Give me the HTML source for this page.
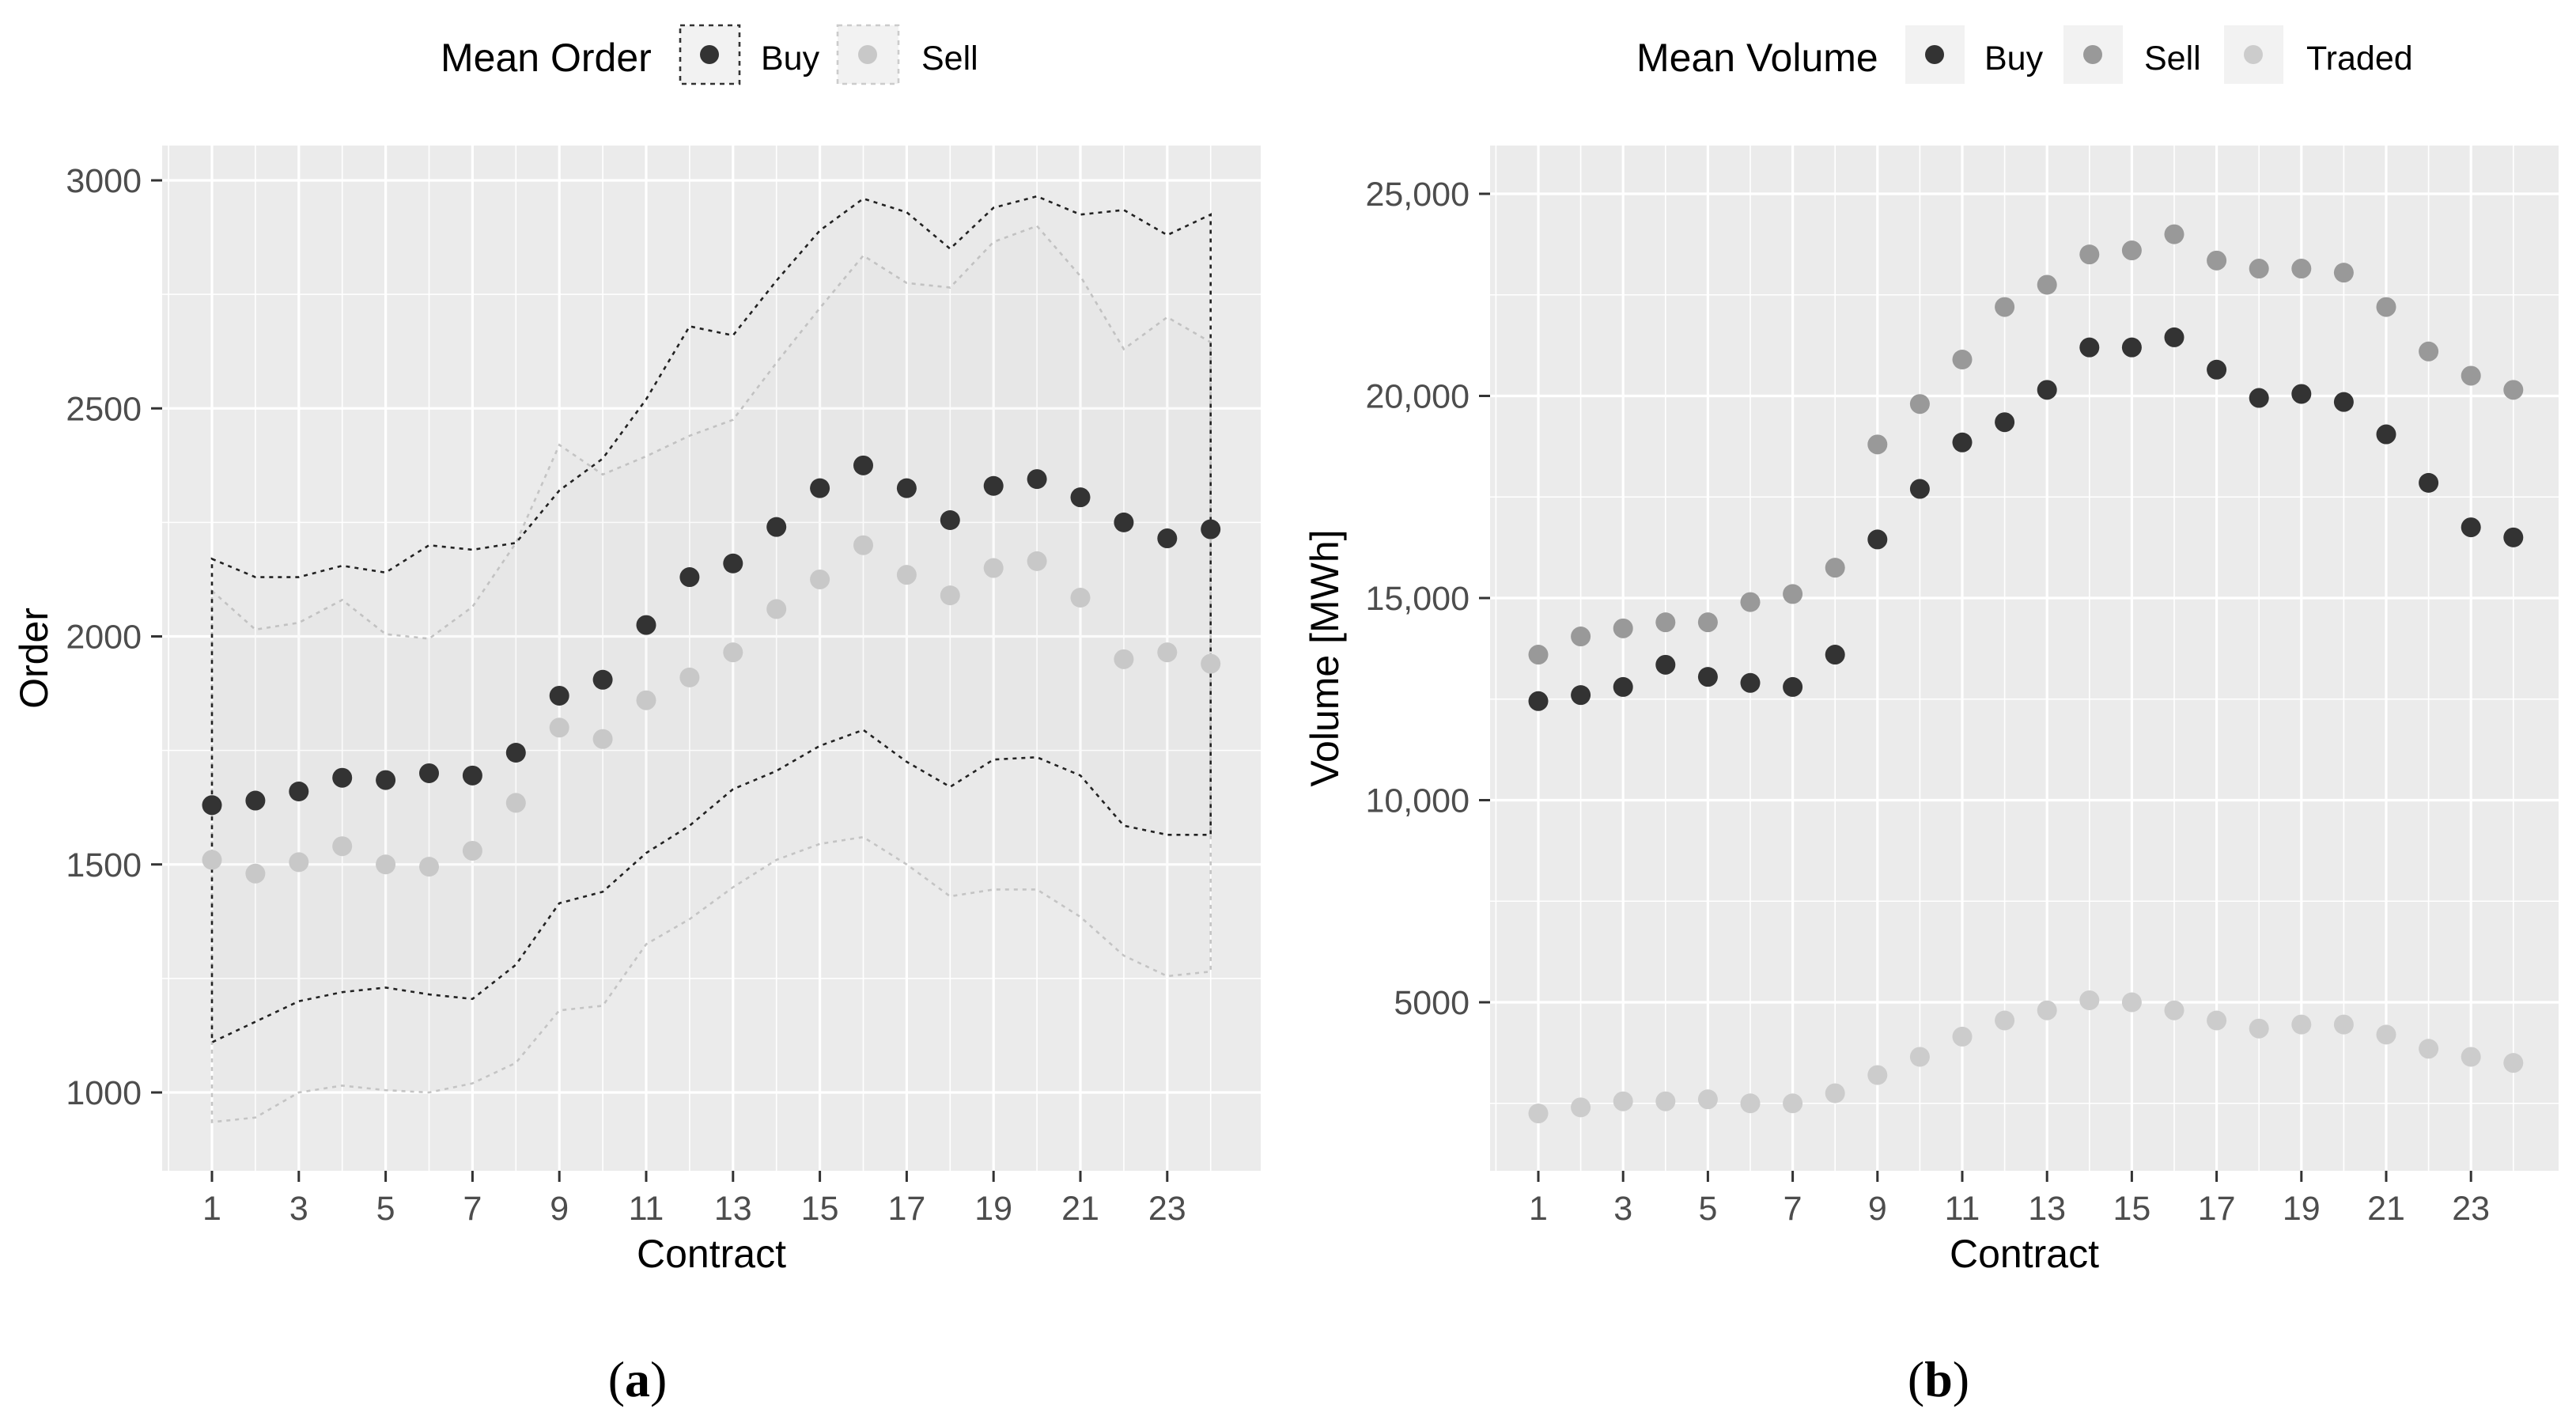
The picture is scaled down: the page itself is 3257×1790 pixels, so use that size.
<!DOCTYPE html>
<html><head><meta charset="utf-8"><style>
html,body{margin:0;padding:0;background:#fff;}
svg{display:block;font-family:"Liberation Sans",Arial,sans-serif;}
</style></head><body>
<svg id="fig" width="3257" height="1790" viewBox="0 0 3257 1790" xmlns="http://www.w3.org/2000/svg">
<g id="left"></g>
<g id="right"></g>
<text x="806" y="1765" font-family="Liberation Serif,serif" font-size="64" text-anchor="middle">(<tspan font-weight="bold">a</tspan>)</text>
<text x="2451" y="1765" font-family="Liberation Serif,serif" font-size="64" text-anchor="middle">(<tspan font-weight="bold">b</tspan>)</text>
</svg>
<script>
const contracts = [1,2,3,4,5,6,7,8,9,10,11,12,13,14,15,16,17,18,19,20,21,22,23,24];
const xTicks = [1,3,5,7,9,11,13,15,17,19,21,23];
// Panel (a)
const buyMean = [1630,1640,1660,1690,1685,1700,1695,1745,1870,1905,2025,2130,2160,2240,2325,2375,2325,2255,2330,2345,2305,2250,2215,2235];
const sellMean = [1510,1480,1505,1540,1500,1495,1530,1635,1800,1775,1860,1910,1965,2060,2125,2200,2135,2090,2150,2165,2085,1950,1965,1940];
const buyUpper = [2170,2130,2130,2155,2140,2200,2190,2205,2320,2390,2520,2680,2660,2780,2890,2960,2930,2850,2940,2965,2925,2935,2880,2925];
const buyLower = [1110,1155,1200,1220,1230,1215,1205,1280,1415,1440,1525,1585,1665,1705,1760,1795,1725,1670,1730,1735,1695,1585,1565,1565];
const sellUpper = [2100,2015,2030,2080,2005,1995,2065,2205,2420,2355,2395,2440,2475,2600,2720,2835,2775,2765,2865,2900,2790,2630,2700,2645];
const sellLower = [935,945,1000,1015,1005,1000,1020,1065,1180,1190,1325,1380,1450,1510,1545,1560,1500,1430,1445,1445,1385,1300,1255,1265];
const orderTicks = [1000,1500,2000,2500,3000];
const orderTickLabels = ["1000","1500","2000","2500","3000"];
// Panel (b)
const volBuy = [12450,12600,12800,13350,13050,12900,12800,13600,16450,17700,18850,19350,20150,21200,21200,21450,20650,19950,20050,19850,19050,17850,16750,16500];
const volSell = [13600,14050,14250,14400,14400,14900,15100,15750,18800,19800,20900,22200,22750,23500,23600,24000,23350,23150,23150,23050,22200,21100,20500,20150];
const volTraded = [2250,2400,2550,2550,2600,2500,2500,2750,3200,3650,4150,4550,4800,5050,5000,4800,4550,4350,4450,4450,4200,3850,3650,3500];
const volTicks = [5000,10000,15000,20000,25000];
const volTickLabels = ["5000","10,000","15,000","20,000","25,000"];

const NS="http://www.w3.org/2000/svg";
function mk(parent,tag,attrs,text){const e=document.createElementNS(NS,tag);for(const k in attrs)e.setAttribute(k,attrs[k]);if(text!==undefined)e.textContent=text;parent.appendChild(e);return e;}

function panel(g,cfg){
  const {L,R,T,B,x1px,unit,yA,yApx,yB,yBpx}=cfg;
  const sx=v=>x1px+(v-1)*unit;
  const sy=v=>yApx+(v-yA)*(yBpx-yApx)/(yB-yA);
  const bg=mk(g,'rect',{x:L,y:T,width:R-L,height:B-T,fill:'#ebebeb'});
  
  
  for(const m of cfg.yMinor){const y=sy(m);if(y>T&&y<B)mk(g,'line',{x1:L,x2:R,y1:y,y2:y,stroke:'#fff','stroke-width':1.6});}
  for(let v=0;v<=25;v+=2){const x=sx(v);if(x>L&&x<R)mk(g,'line',{x1:x,x2:x,y1:T,y2:B,stroke:'#fff','stroke-width':1.6});}
  cfg.yTicks.forEach(v=>{const y=sy(v);mk(g,'line',{x1:L,x2:R,y1:y,y2:y,stroke:'#fff','stroke-width':3.2});});
  xTicks.forEach(v=>{const x=sx(v);mk(g,'line',{x1:x,x2:x,y1:T,y2:B,stroke:'#fff','stroke-width':3.2});});
  cfg.yTicks.forEach((v,i)=>{const y=sy(v);
    mk(g,'line',{x1:L-14,x2:L,y1:y,y2:y,stroke:'#333','stroke-width':3});
    const t=mk(g,'text',{x:L-26,y:y+15,'font-size':43,fill:'#4d4d4d','text-anchor':'end'},cfg.yLabels[i]);
    
    
  });
  xTicks.forEach(v=>{const x=sx(v);
    mk(g,'line',{x1:x,x2:x,y1:B,y2:B+14,stroke:'#333','stroke-width':3});
    const t=mk(g,'text',{x:x,y:B+62,'font-size':43,fill:'#4d4d4d','text-anchor':'middle'},String(v));
    
    
  });
  const xt=mk(g,'text',{x:(L+R)/2,y:B+122,'font-size':50,fill:'#000','text-anchor':'middle'},'Contract');
  
  
  const yc=(T+B)/2;
  const yt=mk(g,'text',{x:cfg.ytx,y:yc,'font-size':50,fill:'#000','text-anchor':'middle',transform:`rotate(-90 ${cfg.ytx} ${yc})`},cfg.yTitle);
  
  
  return {sx,sy};
}

const gl=document.getElementById('left');
const P1=panel(gl,{L:205,R:1594,T:184,B:1480,x1px:268,unit:54.9,yA:1000,yApx:1381,yB:3000,yBpx:228,
  yTicks:orderTicks,yLabels:orderTickLabels,yMinor:[750,1250,1750,2250,2750,3250],ytx:60,yTitle:'Order'});
function ribbon(g,up,lo,color,name){
  let pts=contracts.map((c,i)=>P1.sx(c)+','+P1.sy(up[i]));
  for(let i=contracts.length-1;i>=0;i--)pts.push(P1.sx(contracts[i])+','+P1.sy(lo[i]));
  const p=mk(g,'polygon',{points:pts.join(' '),fill:'rgba(0,0,0,0.008)',stroke:color,'stroke-width':2.6,'stroke-dasharray':'5,6'});
  
  
}
ribbon(gl,sellUpper,sellLower,'#c4c4c4','sell-range-ribbon');
ribbon(gl,buyUpper,buyLower,'#222','buy-range-ribbon');
contracts.forEach((c,i)=>{
  const a=mk(gl,'circle',{cx:P1.sx(c),cy:P1.sy(sellMean[i]),r:12.5,fill:'#c8c8c8'});
  
  
});
contracts.forEach((c,i)=>{
  const a=mk(gl,'circle',{cx:P1.sx(c),cy:P1.sy(buyMean[i]),r:12.5,fill:'#333'});
  
  
});
(function(){
  const g=mk(gl,'g',{});
  
  
  mk(g,'text',{x:557,y:90,'font-size':50,fill:'#000'},'Mean Order');
  mk(g,'rect',{x:860,y:32,width:75,height:74,fill:'#f2f2f2',stroke:'#333','stroke-width':2.6,'stroke-dasharray':'6,6'});
  mk(g,'circle',{cx:897,cy:69,r:12,fill:'#333'});
  mk(g,'text',{x:962,y:88,'font-size':43,fill:'#000'},'Buy');
  mk(g,'rect',{x:1059,y:32,width:77,height:74,fill:'#f2f2f2',stroke:'#ccc','stroke-width':2.6,'stroke-dasharray':'6,6'});
  mk(g,'circle',{cx:1097,cy:69,r:12,fill:'#c8c8c8'});
  mk(g,'text',{x:1165,y:88,'font-size':43,fill:'#000'},'Sell');
})();

const gr=document.getElementById('right');
const P2=panel(gr,{L:1884,R:3235,T:184,B:1480,x1px:1945,unit:53.6,yA:5000,yApx:1267,yB:25000,yBpx:245,
  yTicks:volTicks,yLabels:volTickLabels,yMinor:[2500,7500,12500,17500,22500],ytx:1692,yTitle:'Volume [MWh]'});
function dots(arr,color,name){contracts.forEach((c,i)=>{
  const a=mk(gr,'circle',{cx:P2.sx(c),cy:P2.sy(arr[i]),r:12.5,fill:color});
  
  
});}
dots(volTraded,'#cccccc','traded-volume-point');
dots(volSell,'#999999','sell-volume-point');
dots(volBuy,'#333333','buy-volume-point');
(function(){
  const g=mk(gr,'g',{});
  
  
  mk(g,'text',{x:2069,y:90,'font-size':50,fill:'#000'},'Mean Volume');
  [[2409,'#333','Buy',2509],[2609,'#999','Sell',2711],[2812,'#ccc','Traded',2916]].forEach(k=>{
    mk(g,'rect',{x:k[0],y:32,width:75,height:74,fill:'#f2f2f2'});
    mk(g,'circle',{cx:k[0]+37,cy:69,r:12,fill:k[1]});
    mk(g,'text',{x:k[3],y:88,'font-size':43,fill:'#000'},k[2]);
  });
})();
</script>
</body></html>
